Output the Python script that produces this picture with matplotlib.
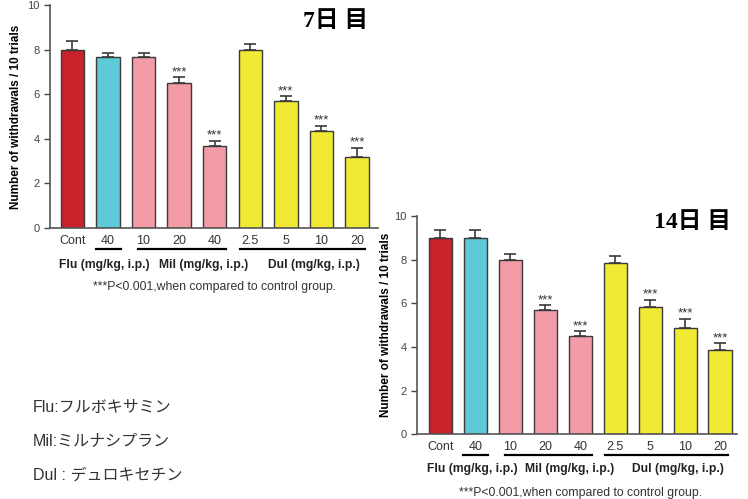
import numpy as np
import matplotlib
matplotlib.use('Agg')
import matplotlib.pyplot as plt
import matplotlib.transforms as mtransforms

plt.rcParams['font.family'] = ['Liberation Sans', 'Noto Sans CJK JP', 'DejaVu Sans']

# data
labels = ['Cont', '40', '10', '20', '40', '2.5', '5', '10', '20']
colors = ['#c8222b', '#5ec9d7', '#f39ca7', '#f39ca7', '#f39ca7',
          '#f1e934', '#f1e934', '#f1e934', '#f1e934']
day7_mean = [8.0, 7.65, 7.65, 6.52, 3.7, 8.0, 5.68, 4.36, 3.18]
day7_err = [0.37, 0.22, 0.22, 0.23, 0.21, 0.27, 0.23, 0.23, 0.43]
day7_sig = [False, False, False, True, True, False, True, True, True]
day14_mean = [8.98, 8.98, 8.0, 5.67, 4.5, 7.84, 5.83, 4.85, 3.84]
day14_err = [0.38, 0.38, 0.27, 0.23, 0.22, 0.31, 0.32, 0.43, 0.32]
day14_sig = [False, False, False, True, True, False, True, True, True]
groups = ['Flu (mg/kg, i.p.)', 'Mil (mg/kg, i.p.)', 'Dul (mg/kg, i.p.)']
group_spans = [(0.65, 1.36), (1.85, 4.33), (4.72, 8.22)]
group_centers = [0.91, 3.7, 6.8]
legend_lines = ['Flu:フルボキサミン', 'Mil:ミルナシプラン', 'Dul : デュロキセチン']

fig = plt.figure(figsize=(7.48, 4.99), dpi=100)


def draw(ax, means, errs, sig, title, title_xy, xlim, ylab_x, line_y, lab_y, note_y):
    x = np.arange(len(means))
    ax.bar(x, means, width=0.66, color=colors, edgecolor='#3a3a3a', linewidth=1.0, zorder=2)
    ax.errorbar(x, means, yerr=[np.zeros(len(errs)), errs], fmt='none',
                ecolor='#3a3a3a', elinewidth=1.2, capsize=4.3, capthick=1.2, zorder=1)
    for xi, m, e, s in zip(x, means, errs, sig):
        if s:
            ax.text(xi, m + e - 0.04, '***', ha='center', va='bottom', fontsize=9.5, color='#333333')
    ax.set_xlim(*xlim)
    ax.set_ylim(0, 10)
    ax.set_yticks([0, 2, 4, 6, 8, 10])
    ax.set_xticks(x)
    ax.set_xticklabels(labels, fontsize=9, color='#333333')
    ax.tick_params(axis='x', length=0, pad=5)
    ax.tick_params(axis='y', labelsize=8, colors='#444444', length=4, width=1)
    for sp in ['top', 'right']:
        ax.spines[sp].set_visible(False)
    for sp in ['left', 'bottom']:
        ax.spines[sp].set_color('#555555')
        ax.spines[sp].set_linewidth(1.2)
    ax.set_ylabel('Number of withdrawals / 10 trials', fontsize=8.5, fontweight='bold')
    ax.yaxis.set_label_coords(ylab_x, 0.5)
    ax.text(title_xy[0], title_xy[1], title, transform=ax.transAxes, ha='center', va='center',
            fontsize=17, fontweight='bold', family=['Liberation Serif', 'Noto Sans CJK JP'])
    trans = mtransforms.blended_transform_factory(ax.transData, ax.transAxes)
    for (a, b), c, g in zip(group_spans, group_centers, groups):
        ax.plot([a, b], [line_y, line_y], color='black', lw=1.6, transform=trans, clip_on=False)
        ax.text(c, lab_y, g, transform=trans, ha='center', va='center', fontsize=8.7,
                fontweight='bold', color='#222222')
    ax.text(4.0, note_y, '***P<0.001,when compared to control group.', transform=trans,
            ha='center', va='center', fontsize=8.8, color='#333333')


ax1 = fig.add_axes([0.0668, 0.543, 0.4385, 0.447])
draw(ax1, day7_mean, day7_err, day7_sig, '7日 目', (0.87, 0.924), (-0.63, 8.59),
     -0.085, -0.094, -0.166, -0.265)

ax2 = fig.add_axes([0.5575, 0.130, 0.428, 0.437])
draw(ax2, day14_mean, day14_err, day14_sig, '14日 目', (0.86, 0.97), (-0.67, 8.49),
     -0.078, -0.096, -0.16, -0.27)

for i, t in enumerate(legend_lines):
    fig.text(0.044, 1 - (407 + 34 * i) / 499, t, ha='left', va='center', fontsize=11.5,
             color='#333333', family=['Liberation Sans', 'Noto Sans CJK JP'])

fig.savefig('out.png', dpi=100)
